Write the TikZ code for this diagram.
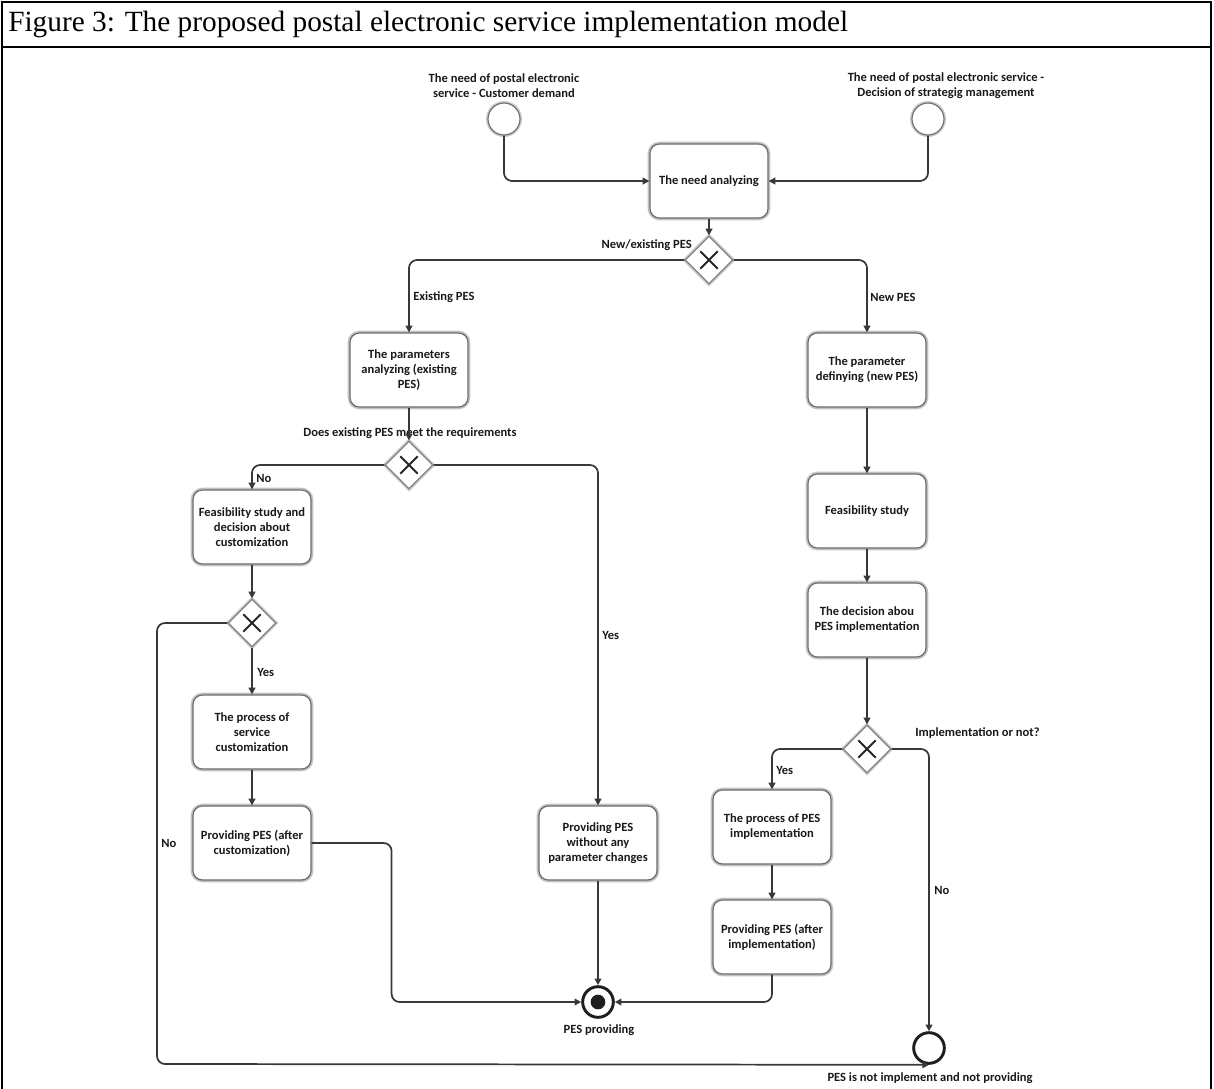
\documentclass[tikz,border=0pt]{standalone}
\usepackage{fontspec}
\setmainfont{Liberation Serif}
\newfontfamily\labfont{Carlito}
\usetikzlibrary{arrows.meta,shapes.geometric}
\begin{document}
\begin{tikzpicture}[x=0.75pt,y=-0.75pt,
  lbl/.style={font=\labfont\bfseries\fontsize{9.4}{11.2}\selectfont, text=black!90, inner sep=0pt, align=center},
  task/.style={rectangle, rounded corners=7pt, minimum width=88.5pt, minimum height=55.5pt, inner sep=2pt,
    fill=white, draw=black!58, line width=0.9pt, preaction={draw=black!24, line width=3.4pt},
    font=\labfont\bfseries\fontsize{9.4}{11.2}\selectfont, text=black!90, align=center},
  gate/.style={diamond, minimum width=36pt, minimum height=36pt, inner sep=0pt,
    fill=white, draw=black!50, line width=0.9pt, preaction={draw=black!20, line width=3pt},
    path picture={\draw[black!85, line width=1.5pt]
      ([shift={(-6.5pt,-6.5pt)}]path picture bounding box.center) -- ([shift={(6.5pt,6.5pt)}]path picture bounding box.center)
      ([shift={(-6.5pt,6.5pt)}]path picture bounding box.center) -- ([shift={(6.5pt,-6.5pt)}]path picture bounding box.center);}},
  startev/.style={circle, minimum size=24pt, inner sep=0pt, fill=white, draw=black!55, line width=0.9pt,
    preaction={draw=black!20, line width=3pt}},
  endev/.style={circle, minimum size=23pt, inner sep=0pt, fill=white, draw=black!88, line width=2.2pt},
  endfill/.style={endev, path picture={\fill[black!88] (path picture bounding box.center) circle (5.5pt);}},
  flow/.style={draw=black!78, line width=1.3pt, rounded corners=6pt, -{Triangle[length=5pt,width=5pt]}}
]
\useasboundingbox (0,0) rectangle (1214,1089);
% frame
\draw[line width=1.2pt] (2,1089) -- (2,2) -- (1211,2) -- (1211,1089);
\draw[line width=1.2pt] (2,47) -- (1211,47);
\node[anchor=west, inner sep=0pt, font=\fontsize{22}{26}\selectfont] (title) at (8,24) {Figure 3: The proposed postal electronic service implementation model};

% events
\node[startev] (s1) at (504,119) {};
\node[lbl] (s1l) at (504,86) {The need of postal electronic\\service - Customer demand};
\node[startev] (s2) at (928,119) {};
\node[lbl] (s2l) at (946,86) {The need of postal electronic service -\\Decision of strategig management};

% tasks
\node[task] (need) at (709,181) {The need analyzing};
\node[gate] (g1) at (709,260) {};
\node[lbl, anchor=east] (g1l) at (692,245) {New/existing PES};

\node[task] (p1) at (409,370) {The parameters\\analyzing (existing\\PES)};
\node[lbl, anchor=west] (l1) at (413,297) {Existing PES};
\node[task] (p2) at (867,370) {The parameter\\definying (new PES)};
\node[lbl, anchor=west] (l2) at (870,297) {New PES};

\node[gate] (g2) at (409,465) {};
\node[lbl] (g2l) at (410,433) {Does existing PES meet the requirements};
\node[lbl, anchor=west] (l3) at (256,478) {No};
\node[lbl, anchor=west] (l4) at (602,635) {Yes};

\node[task] (f1) at (252,527) {Feasibility study and\\decision about\\customization};
\node[gate] (g3) at (252,623) {};
\node[lbl, anchor=west] (l5) at (257,672) {Yes};
\node[task] (cust) at (252,732) {The process of\\service\\customization};
\node[task] (prov1) at (252,843) {Providing PES (after\\customization)};
\node[lbl, anchor=west] (l6) at (161,843) {No};

\node[task] (prov2) at (598,843) {Providing PES\\without any\\parameter changes};

\node[task] (fs) at (867,511) {Feasibility study};
\node[task] (dec) at (867,620) {The decision abou\\PES implementation};
\node[gate] (g4) at (867,749) {};
\node[lbl, anchor=west] (g4l) at (915,733) {Implementation or not?};
\node[lbl, anchor=west] (l7) at (776,770) {Yes};
\node[lbl, anchor=west] (l8) at (934,890) {No};
\node[task] (pimp) at (772,827) {The process of PES\\implementation};
\node[task] (provimp) at (772,937) {Providing PES (after\\implementation)};

\node[endfill] (end1) at (598,1002) {};
\node[lbl] (end1l) at (599,1030) {PES providing};
\node[endev] (end2) at (929,1048) {};
\node[lbl] (end2l) at (930,1078) {PES is not implement and not providing};

% flows
\draw[flow] (s1.south) |- (need.west);
\draw[flow] (s2.south) |- (need.east);
\draw[flow] (need.south) -- (g1.north);
\draw[flow] (g1.west) -| (p1.north);
\draw[flow] (g1.east) -| (p2.north);
\draw[flow] (p1.south) -- (g2.north);
\draw[flow] (g2.west) -| (f1.north);
\draw[flow] (g2.east) -| (prov2.north);
\draw[flow] (f1.south) -- (g3.north);
\draw[flow] (g3.south) -- (cust.north);
\draw[flow] (cust.south) -- (prov1.north);
\coordinate (loop) at (157,1064);
\draw[flow] (g3.west) -| (loop) -- (end2.south);
\draw[flow] (p2.south) -- (fs.north);
\draw[flow] (fs.south) -- (dec.north);
\draw[flow] (dec.south) -- (g4.north);
\draw[flow] (g4.west) -| (pimp.north);
\draw[flow] (g4.east) -| (end2.north);
\draw[flow] (pimp.south) -- (provimp.north);
\draw[flow] (prov1.east) -- ++(80,0) |- (end1.west);
\draw[flow] (prov2.south) -- (end1.north);
\draw[flow] (provimp.south) |- (end1.east);
\end{tikzpicture}
\end{document}
